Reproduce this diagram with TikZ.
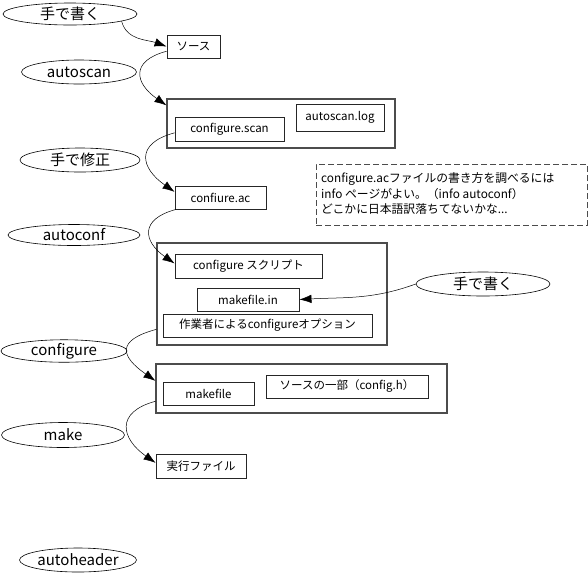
\documentclass[tikz,border=0pt]{standalone}
\usepackage{fontspec}
\setmainfont{Noto Sans CJK JP}
\usetikzlibrary{shapes.geometric,arrows.meta}

\begin{document}
\begin{tikzpicture}[x=1pt,y=-1pt,
    passo/.style={draw,ellipse,line width=0.6pt,inner sep=0pt,font=\fontsize{15}{15}\selectfont},
    file/.style={draw=black!85,rectangle,line width=0.9pt,inner sep=0pt,font=\fontsize{11.5}{12}\selectfont},
    gruppo/.style={draw=black!70,rectangle,line width=1.1pt,inner sep=0pt},
    freccia/.style={-{Latex[length=12pt,width=8.5pt]},line width=0.5pt}]

    % Area del disegno
    \useasboundingbox (0,0) rectangle (588,574);

    % Passi (ellissi a sinistra)
    \node[passo,minimum width=134pt,minimum height=22pt] (mano1) at (70,14) {手で書く};
    \node[passo,minimum width=115pt,minimum height=24pt] (autoscan) at (79,72) {autoscan};
    \node[passo,minimum width=120pt,minimum height=24pt] (modifica) at (80,160) {手で修正};
    \node[passo,minimum width=132pt,minimum height=21pt] (autoconf) at (74,235) {autoconf};
    \node[passo,minimum width=126pt,minimum height=22pt] (configure) at (64,351) {configure};
    \node[passo,minimum width=123pt,minimum height=25pt] (make) at (63,435) {make};
    \node[passo,minimum width=117pt,minimum height=24pt] (autoheader) at (78,560) {autoheader};
    \node[passo,minimum width=134pt,minimum height=24pt] (mano2) at (483,284) {手で書く};

    % Riquadri che raggruppano i file
    \node[gruppo,minimum width=228pt,minimum height=49pt] (scanbox) at (281,123.5) {};
    \node[gruppo,minimum width=230pt,minimum height=102pt] (confbox) at (272,294) {};
    \node[gruppo,minimum width=291pt,minimum height=49pt] (makebox) at (301.5,388.5) {};

    % File prodotti
    \node[file,minimum width=53pt,minimum height=23pt] (sorgente) at (193.5,46.5) {ソース};
    \node[file,minimum width=109pt,minimum height=24pt] (scan) at (229.5,129) {configure.scan};
    \node[file,minimum width=88pt,minimum height=27pt] (log) at (340,117.5) {autoscan.log};
    \node[file,minimum width=91pt,minimum height=23pt] (confac) at (220.5,197.5) {confiure.ac};
    \node[file,minimum width=147pt,minimum height=24pt] (script) at (248.5,266) {configure スクリプト};
    \node[file,minimum width=102pt,minimum height=23pt] (makein) at (248,299.5) {makefile.in};
    \node[file,minimum width=209pt,minimum height=23pt] (opzioni) at (267.5,325.5) {作業者によるconfigureオプション};
    \node[file,minimum width=91pt,minimum height=23pt] (makefile) at (208.5,393.5) {makefile};
    \node[file,minimum width=162pt,minimum height=23pt] (configh) at (347,386.5) {ソースの一部（config.h）};
    \node[file,minimum width=90pt,minimum height=24pt] (eseguibile) at (201,466) {実行ファイル};

    % Nota tratteggiata
    \node[draw=black!70,dash pattern=on 6pt off 3pt,line width=0.9pt,rectangle,minimum width=271pt,minimum height=61pt,inner sep=0pt] (nota) at (451.5,194.5) {};
    \node[anchor=west,align=left,inner sep=0pt,font=\fontsize{11.8}{15.5}\selectfont] (testo) at (321,194) {configure.acファイルの書き方を調べるには\\info ページがよい。（info autoconf）\\どこかに日本語訳落ちてないかな...};

    % Frecce
    \draw[freccia] (mano1.-8) to[out=-75,in=160] (sorgente.west);
    \draw[freccia] (sorgente.190) to[out=195,in=145,looseness=1.8] (scanbox.171);
    \draw[freccia] (scan.184) to[out=195,in=145,looseness=1.8] (confac.173);
    \draw[freccia] (confac.195) to[out=195,in=145,looseness=1.8] (script.178);
    \draw[freccia] (confbox.197) to[out=195,in=145,looseness=2.1] (makebox.177);
    \draw[freccia] (makebox.185) to[out=195,in=145,looseness=1.75] (eseguibile.176);
    \draw[freccia] (mano2.west) to[out=200,in=3] (makein.east);

\end{tikzpicture}
\end{document}
